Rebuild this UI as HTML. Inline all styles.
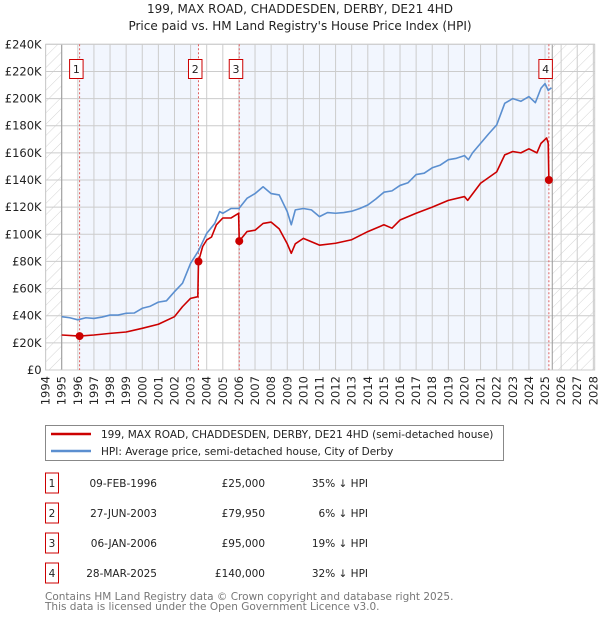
<!DOCTYPE html>
<html><head><meta charset="utf-8"><style>
body{margin:0;background:#fff;width:600px;height:620px;overflow:hidden;font-family:"DejaVu Sans","Liberation Sans",sans-serif;}
svg text{font-family:"DejaVu Sans","Liberation Sans",sans-serif;}
</style></head><body>
<svg id="chart" width="600" height="620" xmlns="http://www.w3.org/2000/svg">
<defs><pattern id="hatch" width="8" height="8" patternUnits="userSpaceOnUse" patternTransform="rotate(45)"><line x1="0" y1="0" x2="0" y2="8" stroke="#d4d4d4" stroke-width="1"/></pattern></defs>
<text x="300" y="13" text-anchor="middle" font-size="12" fill="#222">199, MAX ROAD, CHADDESDEN, DERBY, DE21 4HD</text>
<text x="300" y="30" text-anchor="middle" font-size="12" fill="#222">Price paid vs. HM Land Registry's House Price Index (HPI)</text>
<g id="plot"></g>
<g>
<rect x="45.5" y="425.5" width="458" height="35" fill="#fff" stroke="#888"/>
<line x1="51" y1="434" x2="91" y2="434" stroke="#cc0000" stroke-width="2.5"/>
<text x="101" y="438" font-size="10.5" fill="#222">199, MAX ROAD, CHADDESDEN, DERBY, DE21 4HD (semi-detached house)</text>
<line x1="51" y1="451" x2="91" y2="451" stroke="#5b8fd0" stroke-width="2.5"/>
<text x="101" y="455" font-size="10.5" fill="#222">HPI: Average price, semi-detached house, City of Derby</text>
</g>
<g id="table" font-size="10.5" fill="#222"></g>
<text x="45" y="600" font-size="10.5" fill="#777">Contains HM Land Registry data © Crown copyright and database right 2025.</text>
<text x="45" y="610" font-size="10.5" fill="#777">This data is licensed under the Open Government Licence v3.0.</text>
</svg>
<script>
const yTicks=[0,20,40,60,80,100,120,140,160,180,200,220,240];
const years=[1994,1995,1996,1997,1998,1999,2000,2001,2002,2003,2004,2005,2006,2007,2008,2009,2010,2011,2012,2013,2014,2015,2016,2017,2018,2019,2020,2021,2022,2023,2024,2025,2026,2027,2028];
const hpiT=[1995,1995.5,1996,1996.5,1997,1997.5,1998,1998.5,1999,1999.5,2000,2000.5,2001,2001.5,2002,2002.5,2003,2003.5,2004,2004.5,2004.8,2005,2005.5,2006,2006.5,2007,2007.5,2008,2008.5,2009,2009.25,2009.5,2010,2010.5,2011,2011.5,2012,2012.5,2013,2013.5,2014,2014.5,2015,2015.5,2016,2016.5,2017,2017.5,2018,2018.5,2019,2019.5,2020,2020.25,2020.5,2021,2021.5,2022,2022.5,2023,2023.5,2024,2024.4,2024.75,2025,2025.2,2025.4];
const hpiV=[39.3,38.5,37,38.5,38,39,40.5,40.5,41.8,42,45.5,47,50,51,57.7,64,78.6,88,100.7,108,116.7,115.5,119,119,126.5,130,135,130,129,116.7,107,118,119,118,113,116,115.5,116,117,119,121.6,126,131,132,136,138,144,145,149,151,155,156,158,155,160,167,174,180.6,196.5,200,198,201.5,197,207.6,211,206,208];
const propT=[1995,1996.11,1997,1998,1999,2000,2001,2002,2002.5,2003,2003.45,2003.49,2003.75,2004,2004.3,2004.6,2005,2005.5,2005.98,2006.02,2006.5,2007,2007.5,2008,2008.5,2009,2009.25,2009.5,2010,2011,2012,2013,2014,2015,2015.5,2016,2017,2018,2019,2020,2020.2,2021,2022,2022.5,2023,2023.5,2024,2024.5,2024.75,2025.1,2025.2,2025.24];
const propV=[25.8,25,25.8,27,28,30.7,33.7,39.3,46.7,52.8,54,79.95,91,95.8,98,107,112,112,115.5,95,102,103,108,109,104,93,86,93,97,92,93.4,96,102,107,104.5,110.5,115.5,120,125,127.8,125,137.6,146,158.5,161,160,163,160,167,171,167,140];
const saleLabels=["1","2","3","4"];
const saleT=[1996.11,2003.49,2006.02,2025.24];
const saleV=[25,79.95,95,140];
const saleDates=["09-FEB-1996","27-JUN-2003","06-JAN-2006","28-MAR-2025"];
const salePrices=["£25,000","£79,950","£95,000","£140,000"];
const saleHpi=["35% ↓ HPI","6% ↓ HPI","19% ↓ HPI","32% ↓ HPI"];

const NS="http://www.w3.org/2000/svg";
const L=45.6,R=594.7,T=44.3,B=370;
const x=t=>L+(t-1994)*16.11;
const y=v=>B-(v/240)*(B-T);
function mk(tag,attrs,parent){const e=document.createElementNS(NS,tag);for(const k in attrs)e.setAttribute(k,attrs[k]);parent.appendChild(e);return e;}
const g=document.getElementById('plot');
const dataEnd=2025.45;
const bg=mk('rect',{x:L,y:T,width:R-L,height:B-T,fill:'#fff'},g);


for(let i=0;i<saleT.length;i++){
  if(i%2===0){const x0=x(saleT[i]),x1=i+1<saleT.length?x(saleT[i+1]):x(dataEnd);
  const r=mk('rect',{x:x0,y:T,width:x1-x0,height:B-T,fill:'#eef3fd',opacity:0.75},g);
  
  }
}
const h1=mk('rect',{x:L,y:T,width:x(1995)-L,height:B-T,fill:'url(#hatch)'},g);


const h2=mk('rect',{x:x(dataEnd),y:T,width:R-x(dataEnd),height:B-T,fill:'url(#hatch)'},g);


yTicks.forEach(v=>{
  const ln=mk('line',{x1:L,x2:R,y1:y(v),y2:y(v),stroke:'#ccc','stroke-width':1},g);
  
  
  const t=mk('text',{x:L-4,y:y(v)+4,'text-anchor':'end','font-size':'11.5',fill:'#222'},g);
  t.textContent=v===0?'£0':'£'+v+'K';
  
  
});
years.forEach(yr=>{
  const ln=mk('line',{x1:x(yr),x2:x(yr),y1:T,y2:B,stroke:'#ccc','stroke-width':1},g);
  
  
  const t=mk('text',{x:0,y:0,'text-anchor':'end','font-size':'11.5',fill:'#222',transform:`translate(${x(yr)+4},${B+6}) rotate(-90)`},g);
  t.textContent=yr;
  
  
});
[x(1995),x(dataEnd)].forEach(xx=>{const ln=mk('line',{x1:xx,x2:xx,y1:T,y2:B,stroke:'#999','stroke-width':1},g);

});
mk('rect',{x:L,y:T,width:R-L,height:B-T,fill:'none',stroke:'#ccc'},g);
saleT.forEach(t=>{const ln=mk('line',{x1:x(t),x2:x(t),y1:T,y2:B,stroke:'#e06060','stroke-width':1,'stroke-dasharray':'2,2'},g);

});
const hp=mk('polyline',{points:hpiT.map((t,i)=>x(t)+','+y(hpiV[i])).join(' '),fill:'none',stroke:'#5b8fd0','stroke-width':1.6,'stroke-linejoin':'round'},g);


const pp=mk('polyline',{points:propT.map((t,i)=>x(t)+','+y(propV[i])).join(' '),fill:'none',stroke:'#cc0000','stroke-width':1.6,'stroke-linejoin':'round'},g);


saleT.forEach((t,i)=>{
  const c=mk('circle',{cx:x(t),cy:y(saleV[i]),r:4,fill:'#cc0000'},g);
  
  
  const bx=x(t)-10;
  const r=mk('rect',{x:bx,y:59.5,width:13.5,height:19,fill:'#fff',stroke:'#cc0000'},g);
  
  
  const tx=mk('text',{x:bx+6.75,y:73,'text-anchor':'middle','font-size':'11',fill:'#222'},g);
  tx.textContent=saleLabels[i];
  
  
});
const tb=document.getElementById('table');
saleLabels.forEach((s,i)=>{
  const cy=483+i*30;
  const r=mk('rect',{x:45.5,y:cy-10,width:13,height:20,fill:'#fff',stroke:'#cc0000'},tb);
  
  
  const vals=[[52,'middle',s],[157,'end',saleDates[i]],[265,'end',salePrices[i]],[368,'end',saleHpi[i]]];
  vals.forEach(([xx,a,txt])=>{const t=mk('text',{x:xx,y:cy+4,'text-anchor':a,'font-size':'10.5',fill:'#222'},tb);
  t.textContent=txt;
  
  });
});
</script>
</body></html>
